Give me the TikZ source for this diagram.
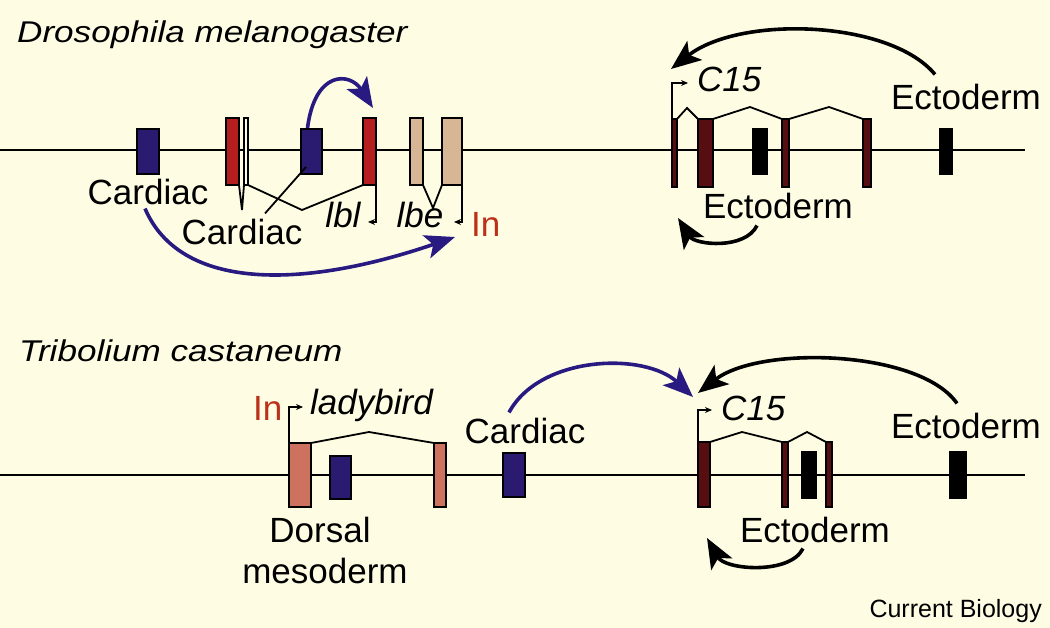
\documentclass[tikz,border=0pt]{standalone}
\usepackage{fontspec}
\setmainfont{Liberation Sans}
\usepackage{graphicx}
\usepackage{tikz}
\usetikzlibrary{arrows.meta}
\definecolor{paper}{RGB}{254,253,228}
\definecolor{cardblue}{RGB}{42,26,112}
\definecolor{arrblue}{RGB}{40,26,128}
\definecolor{lbred}{RGB}{180,30,30}
\definecolor{lbtan}{RGB}{214,182,148}
\definecolor{lbsalmon}{RGB}{206,114,96}
\definecolor{cmaroon}{RGB}{86,14,16}
\definecolor{inred}{RGB}{188,48,26}
\tikzset{exon/.style = {draw, line width = 1.5pt, inner sep = 0, outer sep = 0},
  lab/.style = {font = \fontsize{35}{40}\selectfont, inner sep = 0, anchor = base},
  gname/.style = {lab, font = \fontsize{35}{40}\selectfont\itshape},
  title/.style = {font = \fontsize{30}{36}\selectfont\itshape, inner sep = 0, anchor = base west},
  gene/.style = {line width = 2.2pt},
  splice/.style = {line width = 1.8pt},
  prom/.style = {line width = 1.6pt, -{Stealth[length = 7pt, width = 6pt]}},
  act/.style = {line width = 3.6pt, -{Stealth[length = 30pt 0 0, width = 24pt 0, inset = 7pt 0]}}}

\begin{document}
\begin{tikzpicture}[x = 1pt, y = -1pt]
    \fill [paper] (0, 0) rectangle (1050, 628);
    \useasboundingbox (0, 0) rectangle (1050, 628);

    \node [title] (dmel) at (17, 43) {\scalebox{1.17}[1]{Drosophila melanogaster}};
    \node [title] (tcas) at (19, 362) {\scalebox{1.17}[1]{Tribolium castaneum}};

    \draw [gene] (0, 150) -- (1025, 150);
    \draw [gene] (0, 475) -- (1025, 475);

    \node [exon, fill = cardblue, minimum width = 22, minimum height = 45] (dc1) at (148, 151.5) {};
    \node [exon, fill = lbred, minimum width = 13, minimum height = 67] (dlb1) at (232.5, 151.5) {};
    \node [exon, fill = paper, minimum width = 4, minimum height = 67] (dthin) at (246, 151.5) {};
    \node [exon, fill = cardblue, minimum width = 21, minimum height = 45] (dc2) at (311.5, 151.5) {};
    \node [exon, fill = lbred, minimum width = 13, minimum height = 67] (dlbl) at (369.5, 151.5) {};
    \node [exon, fill = lbtan, minimum width = 13, minimum height = 67] (dlbe1) at (416.5, 151.5) {};
    \node [exon, fill = lbtan, minimum width = 20, minimum height = 67] (dlbe2) at (452, 151.5) {};
    \node [exon, fill = cmaroon, minimum width = 5, minimum height = 68] (dce1) at (674.5, 153) {};
    \node [exon, fill = cmaroon, minimum width = 15, minimum height = 68] (dce2) at (705.5, 153) {};
    \node [exon, fill = black, minimum width = 14, minimum height = 45] (dblk1) at (760, 151.5) {};
    \node [exon, fill = cmaroon, minimum width = 7, minimum height = 68] (dce3) at (785.5, 153) {};
    \node [exon, fill = cmaroon, minimum width = 8, minimum height = 68] (dce4) at (867, 153) {};
    \node [exon, fill = black, minimum width = 12, minimum height = 45] (dblk2) at (946, 151.5) {};

    \node [exon, fill = lbsalmon, minimum width = 22, minimum height = 64] (tlb1) at (300, 475) {};
    \node [exon, fill = cardblue, minimum width = 21, minimum height = 43] (tc1) at (340.5, 477.5) {};
    \node [exon, fill = lbsalmon, minimum width = 12, minimum height = 64] (tlb2) at (440, 475) {};
    \node [exon, fill = cardblue, minimum width = 22, minimum height = 44] (tc2) at (514, 475) {};
    \node [exon, fill = cmaroon, minimum width = 12, minimum height = 65] (tce1) at (704, 474.5) {};
    \node [exon, fill = cmaroon, minimum width = 6, minimum height = 65] (tce2) at (785, 474.5) {};
    \node [exon, fill = black, minimum width = 14, minimum height = 46] (tblk1) at (809, 475) {};
    \node [exon, fill = cmaroon, minimum width = 6, minimum height = 65] (tce3) at (829, 474.5) {};
    \node [exon, fill = black, minimum width = 16, minimum height = 46] (tblk2) at (958, 475) {};

    \draw [splice] (dlb1.south east) -- (242, 210) -- (dthin.south west);
    \draw [splice] (dthin.south east) -- (302, 210) -- (dlbl.south west);
    \draw [splice] (dlbe1.south east) -- (433, 208) -- (dlbe2.south west);
    \draw [splice] (dce1.north east) -- (687, 108) -- (dce2.north west);
    \draw [splice] (dce2.north east) -- (750, 107) -- (dce3.north west);
    \draw [splice] (dce3.north east) -- (829, 107) -- (dce4.north west);
    \draw [splice] (tlb1.north east) -- (369, 432) -- (tlb2.north west);
    \draw [splice] (tce1.north east) -- (742, 432) -- (tce2.north west);
    \draw [splice] (tce2.north east) -- (807, 432) -- (tce3.north west);

    \draw [prom] (dlbl.south east) -- ++(0, 37) -- ++(-8, 0);
    \draw [prom] (dlbe2.south east) -- ++(0, 37) -- ++(-8, 0);
    \draw [prom] (dce1.north west) -- ++(0, -36) -- ++(16, 0);
    \draw [prom] (tlb1.north west) -- ++(0, -36) -- ++(14, 0);
    \draw [prom] (tce1.north west) -- ++(0, -32) -- ++(14, 0);

    \node [lab] (carda) at (148, 205) {Cardiac};
    \node [lab] (cardb) at (242, 245) {Cardiac};
    \node [gname] (lbl) at (343, 228) {lbl};
    \node [gname] (lbe) at (420, 228) {lbe};
    \node [lab, anchor = base west, text = inred] (dina) at (471, 237) {In};
    \node [gname, anchor = base west] (dc15) at (697, 92) {C15};
    \node [lab] (ecta) at (778, 219) {Ectoderm};
    \node [lab] (ectb) at (966, 110) {Ectoderm};

    \node [lab, anchor = base west, text = inred] (tina) at (253, 420) {In};
    \node [gname, anchor = base west] (lady) at (310, 414) {ladybird};
    \node [lab] (dors) at (320, 542) {Dorsal};
    \node [lab] (meso) at (325, 583) {mesoderm};
    \node [lab] (cardc) at (525, 443) {Cardiac};
    \node [gname, anchor = base west] (tc15) at (721, 420) {C15};
    \node [lab] (ectc) at (815, 542) {Ectoderm};
    \node [lab] (ectd) at (966, 438) {Ectoderm};

    \node [inner sep = 0, anchor = base east, font = \fontsize{25}{30}\selectfont] (cb) at (1042, 617) {Current Biology};

    \draw [splice] (306, 167) -- ([xshift = 23pt, yshift = 6pt]cardb.north);

    \coordinate (dlbltip) at (373, 108);
    \coordinate (dintip) at (455, 237);
    \coordinate (dc15tip) at (671, 69);
    \coordinate (dc15low) at (678, 218);
    \coordinate (tc15tip) at (693, 397);
    \coordinate (tc15top) at (698, 393);
    \coordinate (tc15low) at (707, 538);

    \draw [act, arrblue] ([xshift = -4pt, yshift = 1pt]dc2.north) .. controls (315, 70) and (350, 72) .. (dlbltip);
    \draw [act, arrblue] ([xshift = -3pt, yshift = -3pt]carda.south) .. controls (180, 290) and (300, 290) .. (dintip);
    \draw [act] ([xshift = -31pt, yshift = 10pt]ectb.north) .. controls (890, 20) and (740, 15) .. (dc15tip);
    \draw [act] ([xshift = -21pt, yshift = -6pt]ecta.south) .. controls (745, 250) and (695, 245) .. (dc15low);

    \draw [act, arrblue] ([xshift = -16pt, yshift = 5pt]cardc.north) .. controls (540, 355) and (645, 352) .. (tc15tip);
    \draw [act] ([xshift = -9pt, yshift = 9pt]ectd.north) .. controls (920, 350) and (760, 345) .. (tc15top);
    \draw [act] ([xshift = -12pt, yshift = -6pt]ectc.south) .. controls (790, 575) and (725, 570) .. (tc15low);
\end{tikzpicture}
\end{document}
